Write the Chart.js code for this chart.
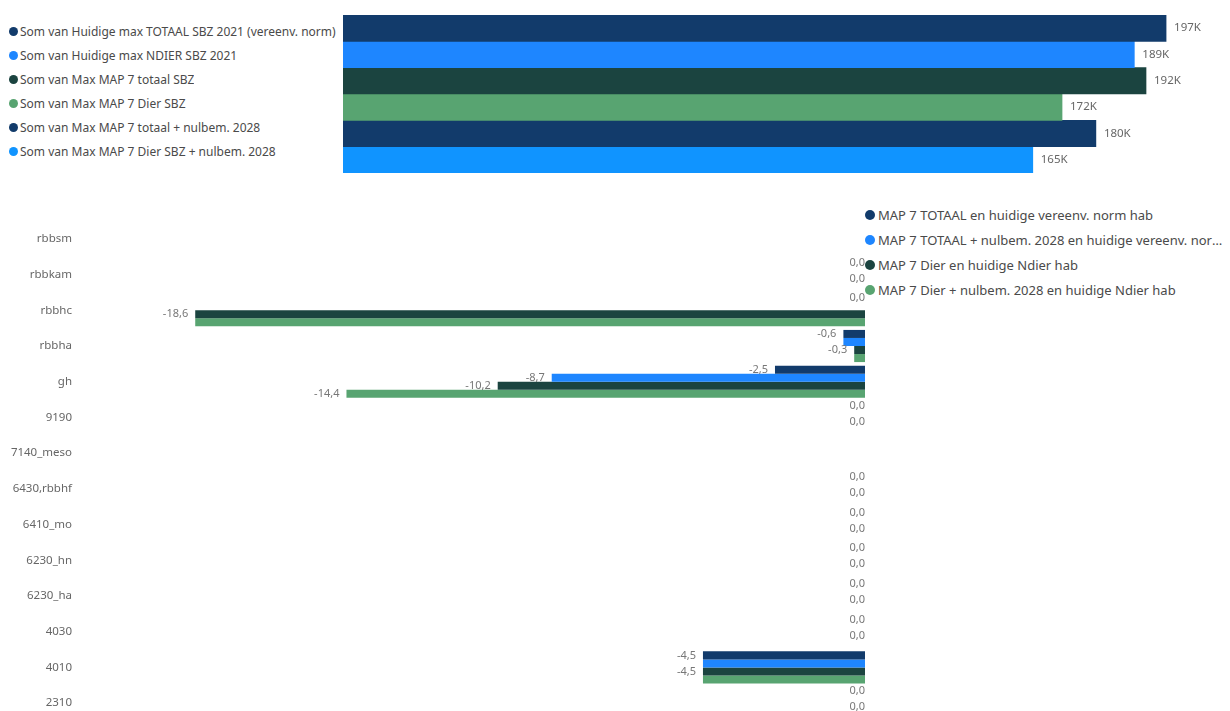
<!DOCTYPE html>
<html>
<head>
<meta charset="utf-8">
<script src="https://cdn.jsdelivr.net/npm/chart.js@4.4.1/dist/chart.umd.min.js"></script>
<style>
    body { margin: 0; width: 1230px; height: 711px; overflow: hidden; background: #fff; position: relative; font-family: 'Noto Sans', sans-serif; }
    #topWrap { position: absolute; left: 343px; top: 15px; width: 887px; height: 158px; }
    #bottomWrap { position: absolute; left: 0; top: 221px; width: 865px; height: 500px; }
    .legend { position: absolute; list-style: none; margin: 0; padding: 0; color: #4a4a4a; font-size: 12px; }
    .legend li { display: flex; align-items: center; height: 24px; white-space: nowrap; }
    .legend .dot { width: 9px; height: 9px; border-radius: 50%; margin-right: 2px; flex: none; }
    .legend .txt { overflow: hidden; text-overflow: ellipsis; }
    #topLegend { left: 9px; top: 19px; }
    #bottomLegend { left: 865px; top: 202px; width: 362px; font-size: 13px; }
    #bottomLegend li { height: 25px; }
    #bottomLegend .dot { width: 10px; height: 10px; margin-right: 3px; }
</style>
</head>
<body>
<ul id="topLegend" class="legend"></ul>
<div id="topWrap"><canvas id="totalsChart"></canvas></div>
<ul id="bottomLegend" class="legend"></ul>
<div id="bottomWrap"><canvas id="habitatChart"></canvas></div>

<script>
// Top chart: totals per scenario
const topSeries = [
    'Som van Huidige max TOTAAL SBZ 2021 (vereenv. norm)',
    'Som van Huidige max NDIER SBZ 2021',
    'Som van Max MAP 7 totaal SBZ',
    'Som van Max MAP 7 Dier SBZ',
    'Som van Max MAP 7 totaal + nulbem. 2028',
    'Som van Max MAP 7 Dier SBZ + nulbem. 2028'
];
const topValues = [197000, 189400, 192200, 172100, 180200, 165100];
const topColors = ['#123b6b', '#1e86ff', '#1b4440', '#58a471', '#123b6b', '#1094ff'];

// Bottom chart: difference per habitat type
const habitats = ['rbbsm', 'rbbkam', 'rbbhc', 'rbbha', 'gh', '9190', '7140_meso', '6430,rbbhf',
    '6410_mo', '6230_hn', '6230_ha', '4030', '4010', '2310'];
const totaalHuidig = [null, 0, 0, -0.6, -2.5, 0, null, 0, 0, 0, 0, 0, -4.5, 0];
const totaalNulbem = [null, 0, 0, -0.6, -8.7, 0, null, 0, 0, 0, 0, 0, -4.5, 0];
const dierHuidig = [null, 0, -18.6, -0.3, -10.2, 0, null, 0, 0, 0, 0, 0, -4.5, 0];
const dierNulbem = [null, 0, -18.6, -0.3, -14.4, 0, null, 0, 0, 0, 0, 0, -4.5, 0];
const bottomSeries = [
    'MAP 7 TOTAAL en huidige vereenv. norm hab',
    'MAP 7 TOTAAL + nulbem. 2028 en huidige vereenv. norm hab',
    'MAP 7 Dier en huidige Ndier hab',
    'MAP 7 Dier + nulbem. 2028 en huidige Ndier hab'
];
const bottomColors = ['#123b6b', '#1e86ff', '#1b4440', '#58a471'];

Chart.defaults.font.family = "'Noto Sans', sans-serif";
Chart.defaults.animation = false;

// Draws value labels next to the bar ends, skipping labels that would overlap
const valueLabels = {
    id: 'valueLabels',
    afterDatasetsDraw(chart, args, opts) {
        const ctx = chart.ctx;
        ctx.save();
        ctx.font = opts.font;
        ctx.fillStyle = opts.color;
        ctx.textBaseline = 'middle';
        ctx.textAlign = 'left';
        const placed = [];
        for (let i = 0; i < chart.data.labels.length; i++) {
            chart.data.datasets.forEach((ds, d) => {
                const v = ds.data[i];
                if (v === null || v === undefined) return;
                const bar = chart.getDatasetMeta(d).data[i];
                const text = opts.format(v);
                const w = ctx.measureText(text).width;
                let x0;
                if (v < 0) x0 = bar.x - opts.gap - w;
                else if (v > 0) x0 = bar.x + opts.gap;
                else x0 = bar.base - w;
                const box = { x0: x0, x1: x0 + w, y0: bar.y - opts.half, y1: bar.y + opts.half };
                const hit = placed.some(b => b.x0 < box.x1 && box.x0 < b.x1 && b.y0 < box.y1 && box.y0 < b.y1);
                if (hit) return;
                placed.push(box);
                ctx.fillText(text, x0, bar.y);
            });
        }
        ctx.restore();
    }
};

// HTML legend built from the chart's legend items
function buildLegend(chart, id) {
    const ul = document.getElementById(id);
    const items = chart.options.plugins.legend.labels.generateLabels(chart);
    items.forEach(item => {
        const li = document.createElement('li');
        const dot = document.createElement('span');
        dot.className = 'dot';
        dot.style.background = item.fillStyle;
        const txt = document.createElement('span');
        txt.className = 'txt';
        txt.textContent = item.text;
        li.appendChild(dot);
        li.appendChild(txt);
        ul.appendChild(li);
    });
}

const totalsChart = new Chart(document.getElementById('totalsChart'), {
    type: 'bar',
    data: {
        labels: [''],
        datasets: topSeries.map((name, i) => ({
            label: name,
            data: [topValues[i]],
            backgroundColor: topColors[i],
            categoryPercentage: 1,
            barPercentage: 1
        }))
    },
    options: {
        indexAxis: 'y',
        responsive: true,
        maintainAspectRatio: false,
        layout: { padding: 0 },
        plugins: {
            legend: { display: false },
            tooltip: { enabled: false },
            valueLabels: {
                font: "11.5px 'Noto Sans'",
                color: '#666',
                gap: 8,
                half: 6,
                format: v => Math.round(v / 1000) + 'K'
            }
        },
        scales: {
            x: { display: false, min: 0, max: 212300 },
            y: { display: false }
        }
    },
    plugins: [valueLabels]
});
buildLegend(totalsChart, 'topLegend');

const habitatSets = [totaalHuidig, totaalNulbem, dierHuidig, dierNulbem];
const habitatChart = new Chart(document.getElementById('habitatChart'), {
    type: 'bar',
    data: {
        labels: habitats,
        datasets: bottomSeries.map((name, i) => ({
            label: name,
            data: habitatSets[i],
            backgroundColor: bottomColors[i],
            categoryPercentage: 0.9,
            barPercentage: 1
        }))
    },
    options: {
        indexAxis: 'y',
        responsive: true,
        maintainAspectRatio: false,
        layout: { padding: 0 },
        plugins: {
            legend: { display: false },
            tooltip: { enabled: false },
            valueLabels: {
                font: "11px 'Noto Sans'",
                color: '#777',
                gap: 7,
                half: 6,
                format: v => v.toFixed(1).replace('.', ',')
            }
        },
        scales: {
            x: { display: false, min: -21.8, max: 0 },
            y: {
                grid: { display: false, drawTicks: false },
                border: { display: false },
                ticks: { color: '#666', font: { size: 11.5 }, padding: 8, autoSkip: false },
                afterFit(scale) {
                    scale.width = 80;
                    scale.paddingTop = 0;
                    scale.paddingBottom = 0;
                }
            }
        }
    },
    plugins: [valueLabels]
});
buildLegend(habitatChart, 'bottomLegend');
</script>
</body>
</html>
